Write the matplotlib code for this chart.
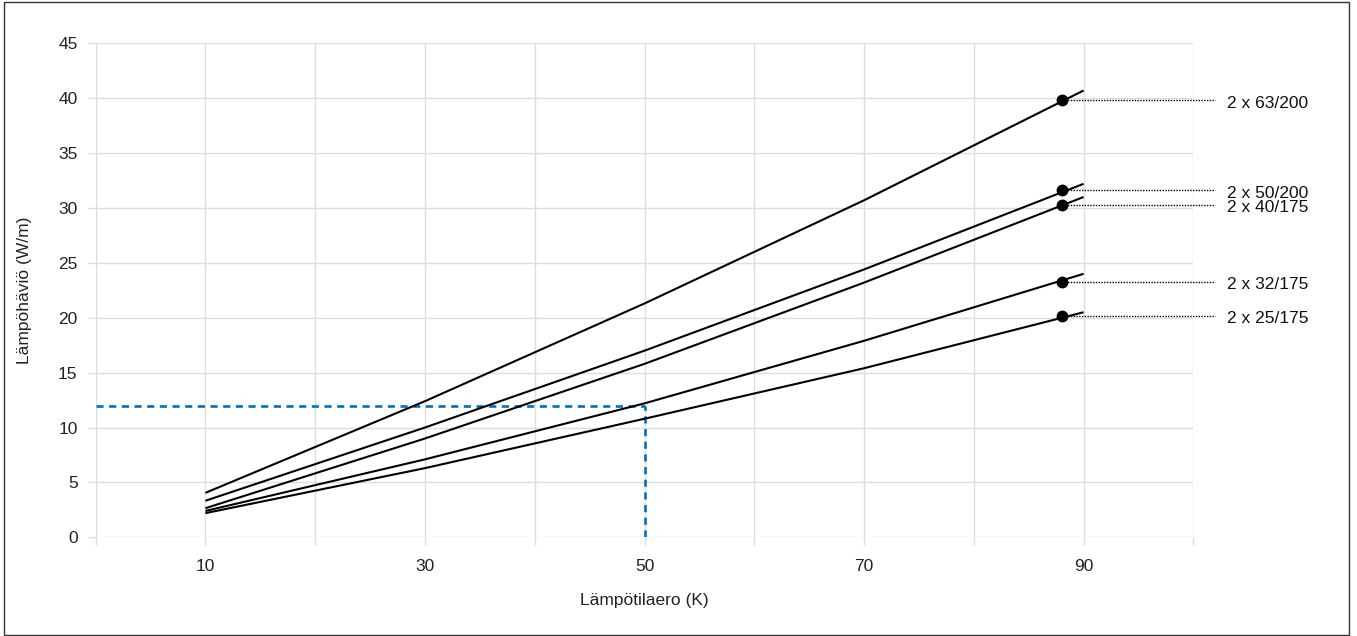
import matplotlib
matplotlib.use("Agg")
import matplotlib.pyplot as plt
from matplotlib.patches import Rectangle
import matplotlib.transforms as mtransforms

plt.rcParams['font.family'] = ['Liberation Sans', 'DejaVu Sans']

# Data
dT = [10, 30, 50, 70, 90]
series_names = ["2 x 63/200", "2 x 50/200", "2 x 40/175", "2 x 32/175", "2 x 25/175"]
loss_63_200 = [4.05, 12.4, 21.3, 30.7, 40.7]
loss_50_200 = [3.33, 10.0, 17.0, 24.4, 32.2]
loss_40_175 = [2.65, 9.0, 15.8, 23.2, 31.0]
loss_32_175 = [2.4, 7.1, 12.2, 17.9, 24.0]
loss_25_175 = [2.2, 6.3, 10.8, 15.4, 20.5]
series_values = [loss_63_200, loss_50_200, loss_40_175, loss_32_175, loss_25_175]
marker_x = 88
marker_y = [39.8, 31.6, 30.3, 23.3, 20.2]
ref_dT = 50
ref_loss = 12
x_ticks = [0, 10, 20, 30, 40, 50, 60, 70, 80, 90, 100]
x_ticklabels = ["", "10", "", "30", "", "50", "", "70", "", "90", ""]
y_ticks = [0, 5, 10, 15, 20, 25, 30, 35, 40, 45]

FS = 12.5

fig = plt.figure(figsize=(13.57, 6.36), dpi=100)
ax = fig.add_axes([0.0705, 0.1552, 0.8089, 0.7767])

for vals in series_values:
    ax.plot(dT, vals, color='black', lw=1.5, zorder=3, solid_capstyle='butt',
            solid_joinstyle='round')

leader_end = 102.0
text_x = 103.1
for name, my in zip(series_names, marker_y):
    ax.plot([marker_x], [my], 'o', color='black', ms=7.5, zorder=4)
    ax.plot([marker_x, leader_end], [my, my], color='black', lw=1.0,
            linestyle=(0, (1, 1)), clip_on=False, zorder=2)
    tr = mtransforms.offset_copy(ax.transData, fig=fig, x=0, y=-3, units='dots')
    ax.text(text_x, my, name, transform=tr, ha='left', va='center',
            fontsize=FS, color='#111111', clip_on=False)

# reference dashed lines
ax.plot([0, ref_dT], [ref_loss, ref_loss], color='#0070C0', lw=1.9,
        linestyle=(0, (2.7, 2.1)), zorder=2)
ax.plot([ref_dT, ref_dT], [0, ref_loss], color='#0070C0', lw=1.9,
        linestyle=(0, (2.7, 2.1)), zorder=2)

ax.set_xlim(0, 100)
ax.set_ylim(0, 45)
ax.set_xticks(x_ticks)
ax.set_xticklabels(x_ticklabels)
ax.set_yticks(y_ticks)
ax.grid(True, color='#dddddd', lw=1.0, zorder=0)
ax.set_axisbelow(True)
for s in ax.spines.values():
    s.set_visible(False)
ax.tick_params(axis='both', colors='#dddddd', labelcolor='#222222',
               labelsize=FS, length=5.5, width=1.0)
ax.tick_params(axis='y', pad=7.5)
ax.tick_params(axis='x', pad=10)

ax.set_xlabel("Lämpötilaero (K)", fontsize=FS, color='#222222')
ax.set_ylabel("Lämpöhäviö (W/m)", fontsize=FS, color='#222222')
ax.xaxis.set_label_coords(0.5, -0.113)
ax.yaxis.set_label_coords(-0.058, 0.5)

# figure border
fig.patches.append(Rectangle((4/1357, 1/636), (1349-4)/1357, (634-1)/636,
                             transform=fig.transFigure, fill=False,
                             edgecolor='#333333', lw=1.0))

fig.savefig("out.png", dpi=100)
